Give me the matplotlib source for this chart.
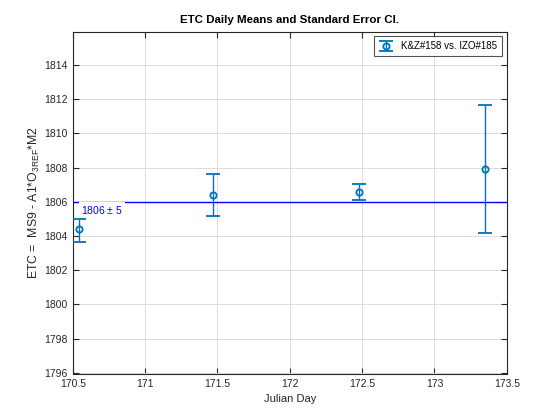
import numpy as np
import matplotlib.pyplot as plt

plt.rcParams["font.family"] = ["Liberation Sans", "DejaVu Sans"]
plt.rcParams["mathtext.fontset"] = "custom"
plt.rcParams["mathtext.rm"] = "Liberation Sans"
plt.rcParams["mathtext.it"] = "Liberation Sans"

# daily means and standard error bounds
julian_day = [170.541, 171.472, 172.480, 173.348]
etc_mean = [1804.42, 1806.41, 1806.58, 1807.93]
etc_low = [1803.66, 1805.18, 1806.12, 1804.19]
etc_high = [1805.00, 1807.64, 1807.05, 1811.67]

overall_mean = 1806
overall_label = "1806 $\\pm$ 5"
series_label = "K&Z#158 vs. IZO#185"

x_ticks = [170.5, 171, 171.5, 172, 172.5, 173, 173.5]
x_tick_labels = ["170.5", "171", "171.5", "172", "172.5", "173", "173.5"]
y_ticks = list(range(1796, 1815, 2))

mean = np.array(etc_mean)
yerr = [mean - np.array(etc_low), np.array(etc_high) - mean]

fig = plt.figure(figsize=(5.6, 4.2), dpi=100)
ax = fig.add_axes([0.13, 0.11, 0.775, 0.815])

ax.errorbar(julian_day, etc_mean, yerr=yerr, fmt="o", color="#0072BD",
            markersize=4.5, markerfacecolor="none", markeredgewidth=1.3,
            elinewidth=1, capsize=5, capthick=1, label=series_label, zorder=3)
ax.axhline(overall_mean, color="blue", linewidth=1, zorder=2)
ax.text(170.56, overall_mean - 0.5, overall_label, color="blue", fontsize=7.5,
        va="center", ha="left", zorder=4,
        bbox=dict(facecolor="white", edgecolor="none", pad=1.5))

ax.set_xlim(170.5, 173.5)
ax.set_ylim(1795.95, 1815.95)
ax.set_xticks(x_ticks)
ax.set_xticklabels(x_tick_labels)
ax.set_yticks(y_ticks)
ax.grid(True, color="#dcdcdc", linewidth=0.7)
ax.set_axisbelow(True)
ax.tick_params(direction="in", top=True, right=True, labelsize=7.5,
               length=4, width=0.8, colors="#262626")
for s in ax.spines.values():
    s.set_linewidth(0.8)
    s.set_color("#262626")

ax.set_xlabel("Julian Day", fontsize=8, color="#262626", labelpad=4)
ax.set_ylabel("ETC =  MS9 - A1*O$_{\\mathrm{3REF}}$*M2", fontsize=8.8,
              color="#262626", labelpad=2)
ax.set_title("ETC Daily Means and Standard Error CI.", fontsize=8.25,
             fontweight="bold", pad=6)

leg = ax.legend(loc="upper right", fontsize=7, frameon=True, fancybox=False,
                edgecolor="#262626", borderpad=0.5, handlelength=1.5)
leg.get_frame().set_linewidth(0.8)

fig.savefig("out.png", dpi=100)
